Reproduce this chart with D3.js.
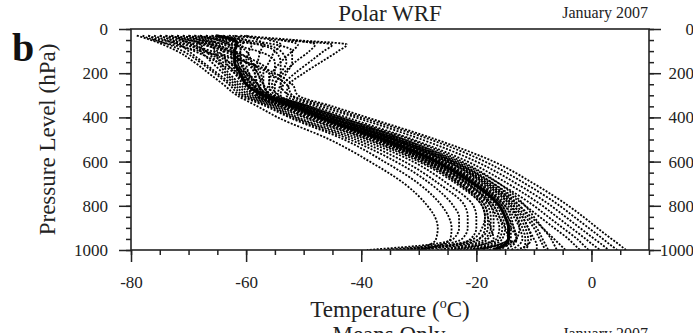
<!DOCTYPE html>
<html>
<head>
<meta charset="utf-8">
<script src="https://cdn.jsdelivr.net/npm/d3@7"></script>
<style>
  body { margin: 0; background: #fff; }
  svg { display: block; }
</style>
</head>
<body>
<div id="chart"></div>
<script>

/* Pressure levels (hPa) used by every profile */
var levels = [30, 50, 70, 100, 150, 200, 250, 300, 350, 400, 500, 600, 700, 800, 850, 900, 950, 975, 1000];

/* Mean profile (thick solid line), deg C */
var meanTemp = [-65.3, -62, -61.6, -62, -62, -61, -60, -57, -51.5, -47, -36, -27, -20.5, -16, -15, -14.4, -14.4, -15, -17];

/* Individual profiles (dashed), cold side with surface inversions */
var coldProfiles = [
    [-79, -76.5, -74.5, -72, -69, -66.5, -64, -61.6, -58, -54.5, -45.5, -38.5, -32.5, -28.5, -27.2, -26.7, -27, -28, -32],
    [-77, -75.5, -73.5, -71, -68, -65.5, -63, -61, -56.5, -52.5, -43, -36, -30, -26, -24.8, -24.3, -24.5, -26, -30],
    [-75, -73, -71.5, -70, -67.5, -65, -62.5, -60.5, -56, -52, -42, -34, -28, -24, -23, -23, -24, -28, -39],
    [-73, -71, -69.5, -68, -66, -64, -62, -60, -55.5, -51.5, -41, -32.5, -26.5, -22, -21.5, -21.5, -22.5, -26, -36],
    [-71, -69, -68, -67, -65, -63.5, -61.5, -59.5, -55, -51, -40, -31, -25, -20.5, -20, -20, -21, -24, -33],
    [-70, -67, -66, -65.5, -64.5, -63, -61, -59, -54.5, -50, -39, -30, -23.5, -19, -18.5, -18.5, -19.5, -22, -30],
    [-68, -66, -65, -64, -63.5, -62, -60.5, -58.5, -54, -49, -38, -29, -22.5, -18, -17.5, -17.5, -18.5, -21, -27],
    [-76, -74, -72, -69, -65, -62, -60, -58.5, -54, -49.5, -38.5, -29.5, -23, -18.5, -18, -17.5, -17, -19, -24],
    [-77, -74.5, -71, -67, -63, -60, -58, -57, -52, -47.5, -37, -28.5, -22.5, -18.5, -18, -18, -19.5, -23, -31],
    [-67, -65, -63, -62, -61, -60, -58.5, -57.5, -52.5, -48, -37.5, -29, -23, -19, -18.5, -19, -20.5, -24, -34]
];

/* Profiles close to the mean */
var midProfiles = [
    [-67, -64, -63, -62.5, -62.5, -61.5, -60, -58, -53.5, -48.5, -37.5, -28.5, -22, -17.5, -16.5, -16, -16.5, -19, -25],
    [-72, -70, -67, -64, -60, -58, -57.5, -58, -53, -48, -37, -28, -21.5, -17, -16, -15.5, -16, -18, -23],
    [-66, -63, -62, -62, -62, -61, -59.5, -57.5, -53, -48, -37, -28, -21.5, -17, -16, -15, -14.5, -16, -20],
    [-74, -71, -69, -67, -64, -61.5, -59.5, -57.5, -52.5, -47.5, -37, -28, -21.5, -17.5, -17, -17, -18, -20, -26],
    [-74, -72, -68, -63, -58, -56, -56, -57.5, -52.5, -47.5, -36.5, -27.5, -21, -16.5, -15.5, -15, -15.5, -17, -21],
    [-64, -61, -60.5, -61, -61, -60, -59, -57, -52, -47, -36, -27, -20.5, -16, -15, -14.5, -14.5, -16, -19],
    [-69, -66.5, -64, -62, -61.5, -60.5, -59, -57, -52, -47, -36, -27, -20.5, -16, -15, -14, -13, -16, -22],
    [-62, -60, -59, -59.5, -60, -59.5, -58.5, -57, -52, -46.5, -35.5, -26.5, -20, -15.5, -14.5, -14, -14, -14.5, -16],
    [-72, -69.5, -67, -65, -63, -61, -59, -56.5, -51, -46, -35.5, -26.5, -20, -15.5, -14.5, -13.5, -13, -14, -18],
    [-70, -68, -66, -63, -60, -58.5, -58, -56.5, -51.5, -46, -35, -26, -19.5, -15, -14, -13.5, -13, -13.5, -15],
    [-66, -62, -57, -54, -53, -54, -55, -56.5, -51.5, -46, -35, -26, -19.5, -15, -13.5, -12.5, -12, -12.5, -14],
    [-70, -68, -65, -63, -61, -59.5, -58, -56, -50.5, -45.5, -34.5, -25, -18.5, -14, -13, -12.5, -13, -15, -21],
    [-60, -58, -57, -57.5, -58, -58.5, -58, -56, -51, -46, -34.5, -25.5, -19, -14.5, -13, -12, -11.5, -11.5, -12],
    [-65, -62.5, -61, -61, -61.5, -60.5, -59, -56.5, -51, -45.5, -34, -24.5, -18, -13.5, -12, -11, -10.5, -11, -13],
    [-73, -70, -66, -62, -59, -57.5, -57, -56, -50.5, -45.5, -34, -25, -18.5, -14, -12.5, -11.5, -11, -11, -11.5],
    [null, -56, -54, -55, -56, -57, -57, -55.5, -50, -45, -33.5, -24.5, -18, -13.5, -12, -11, -10, -9.5, -9.5],
    [-68, -65, -62, -60, -59, -58, -57, -55.5, -50, -44.5, -33, -24, -17.5, -13, -11.5, -10, -9, -8.5, -8],
    [null, -54, -51, -52, -54, -55.5, -56, -55, -49.5, -44, -32.5, -23.5, -17, -12.5, -11, -9.5, -8.5, -8, -7.5],
    [-71, -68, -63, -58, -55, -55, -55.5, -54.5, -49, -43.5, -31.5, -22.5, -16, -11.5, -10, -8.5, -7, -6.5, -6]
];

/* Warm side profiles */
var warmProfiles = [
    [null, -52, -48, -49, -51.5, -53.5, -55, -55, -50, -45, -34.5, -25, -18, -12.5, -10.5, -8.5, -6.5, -5.5, -4.5],
    [-65, -60, -55, -52, -52, -53, -54, -54.5, -49.5, -44.5, -33.5, -24, -17, -11.5, -9, -6.5, -4, -3, -2],
    [-63, -54, -45, -46.5, -49, -51.5, -53.5, -54, -49, -43.5, -32.5, -23, -16, -10, -7.5, -5, -2.5, -1.5, -0.5],
    [-61, -51.5, -42.5, -44, -47, -50, -52.5, -53, -48, -42.5, -31, -21.5, -14.5, -8.5, -6, -3.5, -1, 0.2, 1.5],
    [-69, -64, -58, -55, -54, -54, -54, -52.5, -47, -41, -29.5, -20, -13, -7, -4.5, -2, 0.5, 1.8, 3],
    [-75, -73, -70, -66, -60, -56, -53, -52, -46, -40, -28, -18.5, -11.5, -5.5, -3, -0.5, 2, 3.2, 4.5],
    [-78, -76, -73, -68, -60, -55, -52, -51, -45, -39, -27, -17, -10, -4, -1.4, 1, 3.5, 4.8, 6]
];

/* Axis ticks */
var pressureTicks = [0, 200, 400, 600, 800, 1000],
    pressureMinor = d3.range(0, 1001, 50),
    tempTicks = [-80, -60, -40, -20, 0],
    tempMinor = d3.range(-80, 11, 5);

/* Overall SVG container */
var inputWidth = 693,
    inputHeight = 333,
    fontFamily = "'Liberation Serif', 'Times New Roman', serif";

var margin = { top: 29, left: 131, right: 44, bottom: 83 },
    width = inputWidth - margin.left - margin.right,
    height = inputHeight - margin.top - margin.bottom;

var x = d3.scaleLinear().domain([-80, 10]).range([0, width]);
var y = d3.scaleLinear().domain([0, 1000]).range([0, height]);

var svg = d3.select("#chart")
    .append("svg")
    .attr("width", inputWidth)
    .attr("height", inputHeight)
    .style("font-family", fontFamily);

var g = svg.append("g")
    .attr("transform", "translate(" + margin.left + "," + margin.top + ")");

g.append("clipPath")
    .attr("id", "plotClip")
    .append("rect")
    .attr("width", width)
    .attr("height", height);

/* Profiles */
var line = d3.line()
    .defined(function(d) { return d[1] != null; })
    .x(function(d) { return x(d[1]); })
    .y(function(d) { return y(d[0]); })
    .curve(d3.curveMonotoneY);

function toPoints(temps) {
    return levels.map(function(p, i) { return [p, temps[i]]; });
}

var allProfiles = coldProfiles.concat(midProfiles, warmProfiles);

var plot = g.append("g").attr("clip-path", "url(#plotClip)");

plot.selectAll(".profile")
    .data(allProfiles)
    .enter().append("path")
    .attr("class", "profile")
    .attr("d", function(d) { return line(toPoints(d)); })
    .attr("fill", "none")
    .attr("stroke", "#000")
    .attr("stroke-width", 1.8)
    .attr("stroke-dasharray", "2,1.5");

plot.append("path")
    .attr("d", line(toPoints(meanTemp)))
    .attr("fill", "none")
    .attr("stroke", "#000")
    .attr("stroke-width", 3)
    .attr("stroke-linejoin", "round");

/* Axes */
function styleAxis(sel) {
    sel.select(".domain").remove();
    sel.selectAll("line").attr("stroke", "#222").attr("stroke-width", 1.5);
    sel.selectAll("text")
        .attr("font-family", fontFamily)
        .attr("font-size", 17)
        .attr("fill", "#222");
}

var plain = function(d) { return String(d); };

// minor ticks
g.append("g")
    .call(d3.axisLeft(y).tickValues(pressureMinor).tickSize(5).tickFormat(""))
    .call(styleAxis);
g.append("g")
    .attr("transform", "translate(" + width + ",0)")
    .call(d3.axisRight(y).tickValues(pressureMinor).tickSize(5).tickFormat(""))
    .call(styleAxis);
g.append("g")
    .attr("transform", "translate(0," + height + ")")
    .call(d3.axisBottom(x).tickValues(tempMinor).tickSize(5).tickFormat(""))
    .call(styleAxis);

// major ticks
g.append("g")
    .call(d3.axisLeft(y).tickValues(pressureTicks).tickSize(12).tickPadding(11).tickFormat(plain))
    .call(styleAxis);

var rightAxis = g.append("g")
    .attr("transform", "translate(" + width + ",0)")
    .call(d3.axisRight(y).tickValues(pressureTicks).tickSize(12).tickFormat(plain))
    .call(styleAxis);
rightAxis.selectAll("text")
    .attr("x", 45)
    .attr("text-anchor", "end");

var bottomAxis = g.append("g")
    .attr("transform", "translate(0," + height + ")")
    .call(d3.axisBottom(x).tickValues(tempTicks).tickSize(12).tickFormat(plain))
    .call(styleAxis);
bottomAxis.selectAll("text")
    .attr("y", 38)
    .attr("dy", 0);

/* Frame */
g.append("rect")
    .attr("width", width)
    .attr("height", height)
    .attr("fill", "none")
    .attr("stroke", "#222")
    .attr("stroke-width", 1.6);

/* Titles and labels */
svg.append("text")
    .attr("x", 12)
    .attr("y", 61)
    .attr("font-size", 40)
    .attr("font-weight", "bold")
    .attr("fill", "#111")
    .text("b");

svg.append("text")
    .attr("x", 390)
    .attr("y", 21)
    .attr("text-anchor", "middle")
    .attr("font-size", 23)
    .attr("fill", "#222")
    .text("Polar WRF");

svg.append("text")
    .attr("x", 648)
    .attr("y", 18)
    .attr("text-anchor", "end")
    .attr("font-size", 16)
    .attr("fill", "#222")
    .text("January 2007");

svg.append("text")
    .attr("transform", "translate(55," + (margin.top + height / 2) + ") rotate(-90)")
    .attr("text-anchor", "middle")
    .attr("font-size", 23)
    .attr("fill", "#222")
    .text("Pressure Level (hPa)");

var xLabel = svg.append("text")
    .attr("x", 390)
    .attr("y", 317)
    .attr("text-anchor", "middle")
    .attr("font-size", 23)
    .attr("fill", "#222");
xLabel.append("tspan").text("Temperature (");
xLabel.append("tspan").attr("font-size", 14).attr("dy", -9).text("o");
xLabel.append("tspan").attr("dy", 9).text("C)");

/* Start of the next panel, cut by the page edge as in the source figure */
svg.append("text")
    .attr("x", 389)
    .attr("y", 342)
    .attr("text-anchor", "middle")
    .attr("font-size", 23)
    .attr("fill", "#222")
    .text("Means Only");

svg.append("text")
    .attr("x", 648)
    .attr("y", 339)
    .attr("text-anchor", "end")
    .attr("font-size", 16)
    .attr("fill", "#222")
    .text("January 2007");

</script>
</body>
</html>
